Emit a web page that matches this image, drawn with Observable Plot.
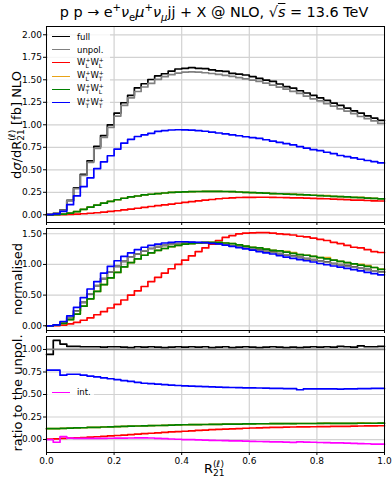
<!DOCTYPE html>
<html><head><meta charset="utf-8">
<script src="https://cdn.jsdelivr.net/npm/d3@7"></script>
<script src="https://cdn.jsdelivr.net/npm/@observablehq/plot@0.6"></script>
<style>
body{margin:0;background:#fff;}
#chart{position:relative;width:392px;height:480px;font-family:"DejaVu Sans",sans-serif;color:#000;overflow:hidden;background:#fff;}
#chart svg{position:absolute;left:0;}
.abs{position:absolute;white-space:nowrap;line-height:1;}
.rot{transform:translate(-50%,-50%) rotate(-90deg);}
.ss{display:inline-flex;flex-direction:column;font-size:70%;line-height:1;vertical-align:middle;text-align:left;}
.lg{position:absolute;background:rgba(255,255,255,0.8);}
.lrow{position:absolute;left:0;height:12px;display:flex;align-items:center;font-size:8.5px;white-space:nowrap;}
.lrow i.sw{display:inline-block;width:18px;height:0;border-top:1.7px solid;margin:0 7px 0 4px;}
sup,sub{font-size:70%;line-height:0;}
</style></head>
<body><div id="chart"></div>
<script>
// bin edges of R21
const edges = [0,0.02,0.04,0.06,0.08,0.1,0.12,0.14,0.16,0.18,0.2,0.22,0.24,0.26,0.28,0.3,0.32,0.34,0.36,0.38,0.4,0.42,0.44,0.46,0.48,0.5,0.52,0.54,0.56,0.58,0.6,0.62,0.64,0.66,0.68,0.7,0.72,0.74,0.76,0.78,0.8,0.82,0.84,0.86,0.88,0.9,0.92,0.94,0.96,0.98,1.0];
const xTicks = [0,0.2,0.4,0.6,0.8,1.0];
const yTicks1 = [0,0.25,0.5,0.75,1,1.25,1.5,1.75,2];
const yTicks2 = [0,0.5,1,1.5];
const yTicks3 = [0,0.25,0.5,0.75,1];

// panel 1: dsigma/dR21 [fb]
const full = [0.004,0.015,0.055,0.16,0.30,0.45,0.60,0.76,0.88,1.00,1.13,1.245,1.327,1.41,1.456,1.503,1.543,1.567,1.597,1.62,1.627,1.635,1.627,1.625,1.61,1.60,1.594,1.572,1.563,1.553,1.535,1.515,1.497,1.483,1.453,1.425,1.408,1.378,1.353,1.326,1.298,1.272,1.24,1.215,1.186,1.155,1.13,1.10,1.075,1.05];
const unpol = [0.004,0.014,0.052,0.155,0.29,0.437,0.583,0.738,0.859,0.972,1.097,1.215,1.30,1.37,1.42,1.46,1.505,1.535,1.557,1.575,1.585,1.588,1.585,1.578,1.57,1.56,1.549,1.538,1.525,1.51,1.497,1.482,1.463,1.44,1.418,1.396,1.372,1.349,1.318,1.289,1.266,1.236,1.208,1.176,1.152,1.125,1.092,1.068,1.043,1.016];
const LL = [0,0.0005,0.0015,0.004,0.007,0.0115,0.017,0.023,0.029,0.037,0.045,0.054,0.064,0.073,0.082,0.092,0.101,0.110,0.119,0.128,0.137,0.146,0.155,0.163,0.170,0.178,0.184,0.188,0.192,0.193,0.194,0.195,0.195,0.193,0.192,0.191,0.189,0.187,0.186,0.183,0.180,0.178,0.174,0.172,0.168,0.164,0.163,0.159,0.155,0.153];
const LT = [0,0.002,0.008,0.019,0.036,0.061,0.085,0.108,0.129,0.150,0.167,0.184,0.198,0.209,0.221,0.228,0.236,0.242,0.248,0.252,0.255,0.257,0.259,0.261,0.261,0.261,0.259,0.257,0.253,0.250,0.246,0.244,0.240,0.236,0.234,0.233,0.230,0.223,0.221,0.217,0.213,0.213,0.205,0.202,0.198,0.194,0.193,0.189,0.182,0.178];
const TL = [0,0.002,0.008,0.019,0.036,0.061,0.085,0.108,0.129,0.150,0.167,0.184,0.198,0.209,0.221,0.228,0.236,0.242,0.248,0.252,0.255,0.257,0.259,0.261,0.261,0.261,0.259,0.257,0.253,0.250,0.246,0.244,0.240,0.236,0.234,0.230,0.227,0.223,0.221,0.217,0.213,0.209,0.205,0.202,0.198,0.194,0.190,0.186,0.182,0.177];
const TT = [0.003,0.011,0.037,0.112,0.210,0.312,0.411,0.513,0.588,0.656,0.730,0.796,0.839,0.870,0.888,0.905,0.926,0.936,0.942,0.945,0.943,0.940,0.935,0.928,0.918,0.909,0.898,0.889,0.878,0.867,0.858,0.848,0.834,0.818,0.804,0.790,0.777,0.758,0.741,0.724,0.712,0.695,0.679,0.659,0.647,0.632,0.617,0.603,0.591,0.576];

// panel 2: normalised
const nFull = [0,0.011,0.052,0.135,0.245,0.38,0.52,0.655,0.77,0.88,0.97,1.05,1.12,1.17,1.22,1.26,1.29,1.31,1.33,1.34,1.35,1.355,1.35,1.35,1.345,1.335,1.325,1.305,1.29,1.275,1.255,1.24,1.215,1.2,1.175,1.155,1.14,1.115,1.095,1.078,1.055,1.038,1.015,0.997,0.98,0.962,0.938,0.918,0.897,0.878];
const nUnpol = [0,0.01,0.05,0.13,0.24,0.38,0.52,0.65,0.77,0.88,0.97,1.05,1.12,1.17,1.22,1.26,1.29,1.31,1.33,1.34,1.35,1.355,1.355,1.35,1.345,1.335,1.32,1.305,1.29,1.27,1.255,1.235,1.215,1.195,1.175,1.155,1.135,1.115,1.095,1.075,1.055,1.035,1.015,0.995,0.975,0.955,0.935,0.915,0.895,0.875];
const nLL = [0,0.004,0.012,0.03,0.055,0.09,0.13,0.18,0.23,0.29,0.35,0.42,0.50,0.57,0.64,0.72,0.79,0.86,0.93,1.00,1.07,1.14,1.21,1.27,1.33,1.39,1.44,1.47,1.50,1.51,1.515,1.52,1.52,1.51,1.50,1.49,1.48,1.46,1.45,1.43,1.41,1.39,1.36,1.34,1.31,1.28,1.27,1.24,1.21,1.195];
const nLT = [0,0.01,0.04,0.10,0.19,0.32,0.44,0.56,0.67,0.78,0.87,0.96,1.03,1.09,1.15,1.19,1.23,1.26,1.29,1.31,1.33,1.34,1.35,1.36,1.36,1.36,1.35,1.34,1.32,1.30,1.28,1.27,1.25,1.23,1.22,1.215,1.195,1.16,1.15,1.13,1.11,1.11,1.07,1.05,1.03,1.01,1.0,0.98,0.95,0.925];
const nTL = [0,0.01,0.04,0.10,0.19,0.32,0.44,0.56,0.67,0.78,0.87,0.96,1.03,1.09,1.15,1.19,1.23,1.26,1.29,1.31,1.33,1.34,1.35,1.36,1.36,1.36,1.35,1.34,1.32,1.30,1.28,1.27,1.25,1.23,1.22,1.20,1.18,1.16,1.15,1.13,1.11,1.09,1.07,1.05,1.03,1.01,0.99,0.97,0.95,0.92];
const nTT = [0,0.015,0.07,0.16,0.30,0.46,0.60,0.72,0.86,0.97,1.06,1.13,1.19,1.24,1.28,1.31,1.33,1.35,1.36,1.37,1.37,1.365,1.36,1.355,1.345,1.335,1.315,1.295,1.275,1.255,1.235,1.21,1.19,1.17,1.145,1.12,1.10,1.08,1.06,1.04,1.015,0.995,0.975,0.955,0.935,0.915,0.895,0.87,0.85,0.83];

// panel 3: ratio to the unpolarised
const rFull = [0.945,1.10,1.06,1.035,1.035,1.03,1.03,1.03,1.025,1.03,1.03,1.025,1.02,1.03,1.025,1.03,1.025,1.02,1.025,1.03,1.025,1.03,1.025,1.03,1.02,1.025,1.03,1.02,1.025,1.03,1.025,1.02,1.025,1.03,1.025,1.02,1.025,1.02,1.025,1.03,1.025,1.03,1.025,1.035,1.03,1.025,1.04,1.03,1.03,1.035];
const rUnpol = unpol.map(() => 1);
const rLL = [0.005,0.008,0.012,0.015,0.018,0.022,0.027,0.031,0.036,0.040,0.045,0.050,0.055,0.060,0.065,0.070,0.075,0.079,0.084,0.088,0.092,0.097,0.101,0.105,0.109,0.113,0.116,0.119,0.122,0.125,0.128,0.130,0.132,0.134,0.136,0.138,0.139,0.140,0.141,0.142,0.143,0.144,0.145,0.146,0.147,0.148,0.150,0.151,0.152,0.153];
const rLT = [0.12,0.122,0.124,0.127,0.129,0.131,0.134,0.136,0.139,0.141,0.144,0.146,0.148,0.150,0.152,0.154,0.156,0.158,0.160,0.162,0.164,0.165,0.166,0.167,0.168,0.169,0.170,0.171,0.172,0.173,0.174,0.175,0.175,0.176,0.176,0.178,0.177,0.178,0.178,0.178,0.179,0.182,0.179,0.180,0.180,0.180,0.184,0.183,0.181,0.182];
const rTL = [0.12,0.122,0.124,0.127,0.129,0.131,0.134,0.136,0.139,0.141,0.144,0.146,0.148,0.150,0.152,0.154,0.156,0.158,0.160,0.162,0.164,0.165,0.166,0.167,0.168,0.169,0.170,0.171,0.172,0.173,0.174,0.175,0.175,0.176,0.176,0.177,0.177,0.178,0.178,0.178,0.179,0.179,0.179,0.180,0.180,0.180,0.181,0.181,0.181,0.182];
const rTT = [0.77,0.77,0.715,0.725,0.725,0.715,0.705,0.695,0.685,0.675,0.665,0.655,0.645,0.635,0.625,0.62,0.615,0.61,0.605,0.60,0.595,0.592,0.59,0.588,0.585,0.583,0.58,0.578,0.576,0.574,0.573,0.572,0.57,0.568,0.567,0.566,0.566,0.553,0.562,0.562,0.562,0.562,0.562,0.56,0.562,0.562,0.565,0.565,0.567,0.567];
const rInt = [0.0,-0.03,0.033,0.015,0.012,0.012,0.012,0.013,0.013,0.014,0.015,0.016,0.017,0.018,0.018,0.017,0.012,0.01,0.006,0.003,0.0,-0.002,-0.004,-0.006,-0.009,-0.011,-0.013,-0.015,-0.016,-0.018,-0.02,-0.022,-0.023,-0.025,-0.027,-0.029,-0.031,-0.025,-0.028,-0.03,-0.033,-0.035,-0.037,-0.038,-0.04,-0.042,-0.045,-0.047,-0.05,-0.052];

const C = {full:"#000000", unpol:"#808080", LL:"#ff0000", LT:"#e8a317", TL:"#008000", TT:"#0000ff", int:"#ff00ff"};

function stairs(vals){
  const pts = vals.map((v,i)=>({x:edges[i], y:v}));
  pts.push({x:edges[edges.length-1], y:vals[vals.length-1]});
  return pts;
}
const GRID = "#d2d2d2";
function panel({series, ydomain, yticks, top, height, mt, mb, xlabels}){
  const svg = Plot.plot({
    width:392, height, marginLeft:46, marginRight:8, marginTop:mt, marginBottom:mb,
    style:{fontFamily:"DejaVu Sans, sans-serif", fontSize:"9px", background:"transparent", color:"#000", overflow:"visible"},
    x:{domain:[0,1]},
    y:{domain:ydomain},
    marks:[
      Plot.gridX(xTicks, {stroke:GRID, strokeOpacity:1, strokeWidth:1.2}),
      Plot.gridY(yticks, {stroke:GRID, strokeOpacity:1, strokeWidth:1.2}),
      ...series.map(s => Plot.line(stairs(s.v), {x:"x", y:"y", curve:"step-after", stroke:s.c, strokeWidth:1.7})),
      Plot.axisY(yticks, {tickFormat:d3.format(".2f"), tickSize:3, tickPadding:1.5, label:null, fontSize:9}),
      xlabels
        ? Plot.axisX(xTicks, {tickFormat:d3.format(".1f"), tickSize:3, tickPadding:2, label:null, fontSize:9})
        : Plot.axisX(xTicks, {tickFormat:()=>"", tickSize:3, label:null}),
      Plot.frame({stroke:"#000", strokeWidth:1})
    ]
  });
  svg.style.top = top + "px";
  return svg;
}
const chart = document.getElementById("chart");
chart.appendChild(panel({
  series:[{v:full,c:C.full},{v:unpol,c:C.unpol},{v:LL,c:C.LL},{v:LT,c:C.LT},{v:TL,c:C.TL},{v:TT,c:C.TT}],
  ydomain:[-0.0856,2.092], yticks:yTicks1, top:0, height:224, mt:26, mb:2, xlabels:false
}));
chart.appendChild(panel({
  series:[{v:nFull,c:C.full},{v:nUnpol,c:C.unpol},{v:nLL,c:C.LL},{v:nLT,c:C.LT},{v:nTL,c:C.TL},{v:nTT,c:C.TT}],
  ydomain:[-0.077,1.586], yticks:yTicks2, top:224, height:108, mt:4, mb:2, xlabels:false
}));
chart.appendChild(panel({
  series:[{v:rFull,c:C.full},{v:rUnpol,c:C.unpol},{v:rLL,c:C.LL},{v:rLT,c:C.LT},{v:rTL,c:C.TL},{v:rTT,c:C.TT},{v:rInt,c:C.int}],
  ydomain:[-0.144,1.144], yticks:yTicks3, top:332, height:148, mt:4, mb:28, xlabels:true
}));

const ss = (a,b) => `<span class="ss"><span>${a}</span><span>${b}</span></span>`;
function addHTML(html, style, cls){
  const d = document.createElement("div");
  d.className = "abs " + (cls||"");
  d.setAttribute("style", style);
  d.innerHTML = html;
  chart.appendChild(d);
  return d;
}
// title
addHTML(`p p → e<sup>+</sup><i>ν</i><sub>e</sub><i>μ</i><sup>+</sup><i>ν</i><sub><i>μ</i></sub>jj + X @ NLO, √<span style="text-decoration:overline"><i>s</i></span> = 13.6 TeV`,
  "left:214px;top:5px;transform:translateX(-50%);font-size:14.4px;");
// y labels
addHTML(`d<i>σ</i>/dR${ss("(<i>ℓ</i>)","21")} [fb] NLO`, "left:17px;top:125px;font-size:13px;", "rot");
addHTML(`normalised`, "left:17px;top:279px;font-size:13px;", "rot");
addHTML(`ratio to the unpol.`, "left:17px;top:393px;font-size:13px;", "rot");
// x label
addHTML(`R${ss("(<i>ℓ</i>)","21")}`, "left:204px;top:460px;font-size:13px;");

// legends
const legItems = [
  {c:C.full, t:"full"},
  {c:C.unpol, t:"unpol."},
  {c:C.LL, t:"W"+ss("+","L")+"W"+ss("+","L")},
  {c:C.LT, t:"W"+ss("+","L")+"W"+ss("+","T")},
  {c:C.TL, t:"W"+ss("+","T")+"W"+ss("+","L")},
  {c:C.TT, t:"W"+ss("+","T")+"W"+ss("+","T")}
];
const lg = document.createElement("div");
lg.className = "lg";
lg.setAttribute("style","left:48px;top:29px;width:62px;height:80px;");
legItems.forEach((it,i)=>{
  const r = document.createElement("div");
  r.className = "lrow";
  r.style.top = (1.5 + i*13.2) + "px";
  r.innerHTML = `<i class="sw" style="border-color:${it.c}"></i><span>${it.t}</span>`;
  lg.appendChild(r);
});
chart.appendChild(lg);
const lg3 = document.createElement("div");
lg3.className = "lg";
lg3.setAttribute("style","left:48px;top:384px;width:46px;height:16px;");
const r3 = document.createElement("div");
r3.className = "lrow";
r3.style.top = "2px";
r3.innerHTML = `<i class="sw" style="border-color:${C.int}"></i><span>int.</span>`;
lg3.appendChild(r3);
chart.appendChild(lg3);
</script></body></html>
